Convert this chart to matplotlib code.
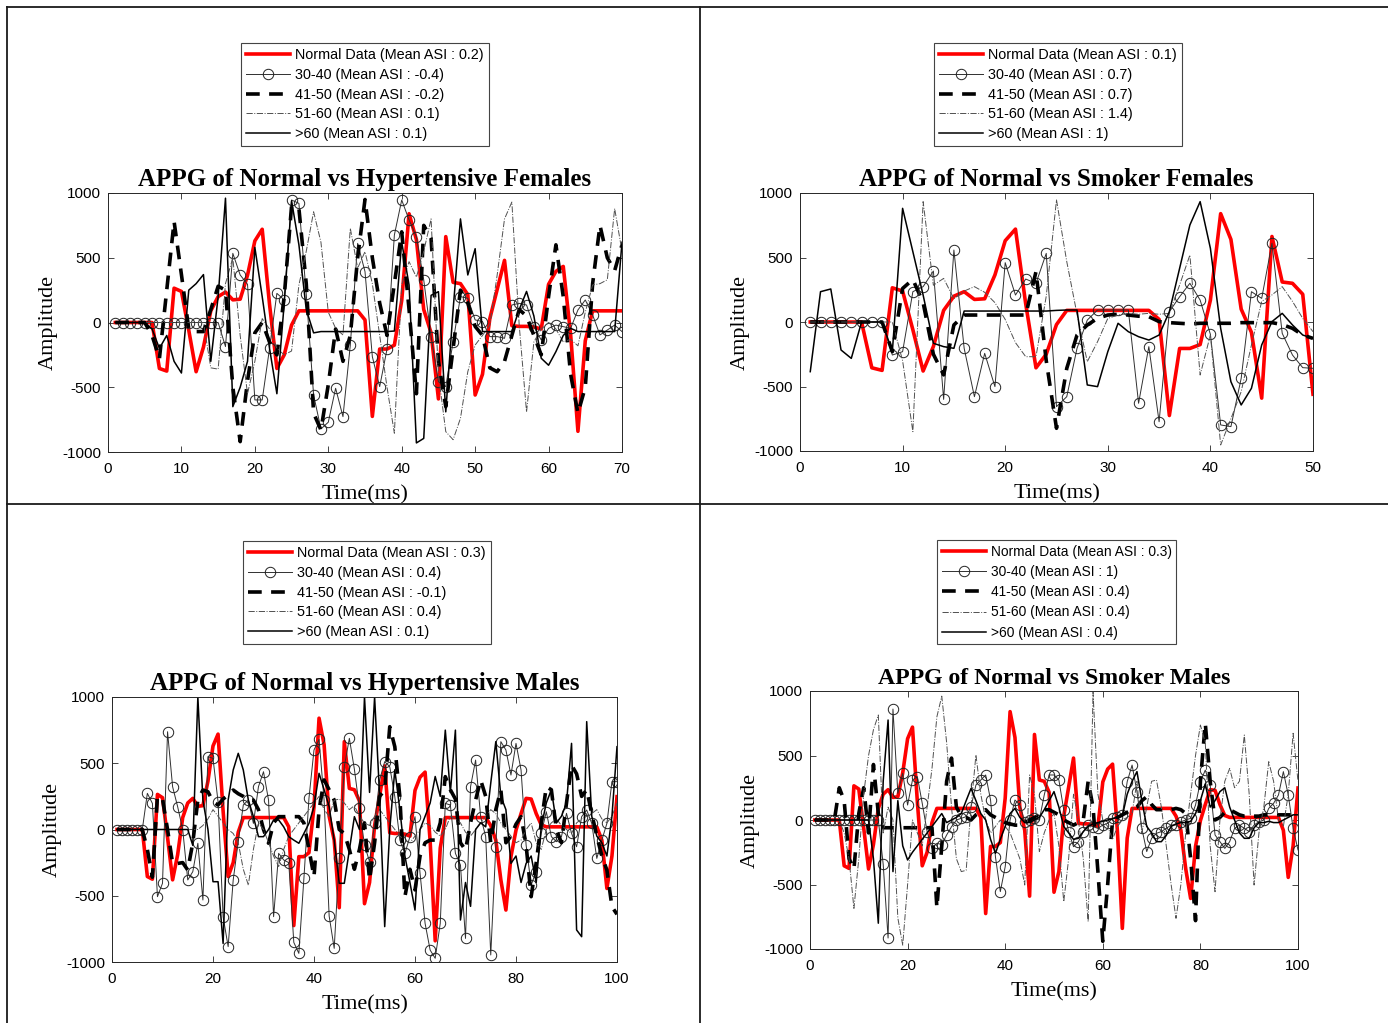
import numpy as np
import matplotlib
matplotlib.use('Agg')
import matplotlib.pyplot as plt
from matplotlib.lines import Line2D

# ---- data (amplitude per ms sample) ----
normal_data = [
    0, 0, 0, 0, 0, 0, -355, -375, 265, 240,
    -60, -380, -190, 90, 200, 235, 175, 180, 365, 630,
    720, 140, -355, -250, -20, 90, 90, 90, 90, 90,
    90, 90, 90, 90, 20, -725, -205, -205, -175, 170,
    840, 640, 100, -80, -590, 663, 310, 300, 215, -560,
    -400, 30, 255, 480, -25, -30, -30, -35, -50, 295,
    395, 433, -90, -840, -140, 90, 90, 90, 90, 90,
    90, 90, 90, 90, 30, -80, -380, -608, -205, -5,
    120, 235, 230, 120, 35, 20, 20, 20, 20, 20,
    20, 20, 20, 20, 20, 20, -80, -445, -200, 248,
]

# hypertensive females (70 samples)
hf_30_40 = [
    0, 0, 0, 0, 0, 0, 0, 0, 0, 0,
    0, 0, 0, 0, 0, -186, 534, 367, 295, -598,
    -598, -200, 225, 174, 946, 920, 218, -560, -822, -770,
    -508, -727, -174, 611, 393, -264, -495, -205, 676, 946,
    792, 663, 328, -109, -457, -495, -148, 200, 187, 20,
    7, -109, -109, -122, 135, 148, 135, -32, -135, -45,
    -20, -32, -45, 97, 174, 58, -96, -58, -20, -70,
]
hf_41_50 = [
    0, 0, 0, 0, 0, -100, -280, 250, 780, 370,
    -50, -70, -70, 100, 280, 250, -500, -920, -450, -80,
    0, -150, -250, 200, 900, 880, 300, -700, -830, -480,
    -50, -300, -100, 500, 950, 500, 150, -100, 300, 700,
    100, -550, 750, 650, -300, -650, -200, 250, 150, -30,
    -100, -350, -380, -300, -100, 100, 50, -100, -250, 200,
    600, 200, -400, -700, -500, 300, 750, 500, 400, 600,
]
hf_51_60 = [
    0, 0, 0, 0, 0, 0, 0, 0, 0, 0,
    0, 0, 0, -350, -360, 300, 500, -100, -550, -300,
    30, -50, -200, -250, -220, 290, 550, 855, 620, 80,
    -45, -96, 727, 420, 547, 300, -100, -500, -855, 290,
    470, 350, 550, 800, -400, -843, -905, -740, -380, -174,
    -100, -20, 367, 800, 930, -20, -690, -150, -50, 0,
    -50, -150, -130, -180, 80, 290, 300, 330, 880, 550,
]
hf_over60 = [
    0, 0, 0, 0, 0, -50, -200, -100, -300, -390,
    250, 300, 370, -300, 200, 960, -650, -500, -300, 580,
    200, -200, -550, 150, 940, 600, 100, -80, -70, -70,
    -70, -70, -70, -70, -70, -70, -70, -70, -66, 620,
    290, -930, -895, 210, 238, -690, 100, 800, 367, 570,
    -70, -70, -70, -70, -70, 100, 240, 50, -276, -330,
    -225, -100, -45, -70, -70, -70, -70, -70, -70, 620,
]

# smoker females (50 samples)
sf_30_40 = [
    0, 0, 0, 0, 0, 0, 0, 0, -256, -230,
    235, 274, 395, -600, 558, -204, -579, -243, -501, 460,
    209, 333, 300, 532, -656, -579, -204, 15, 93, 93,
    93, 93, -630, -191, -773, 80, 196, 300, 170, -96,
    -798, -811, -437, 235, 183, 610, -88, -256, -354, -359,
]
sf_41_50 = [
    0, 0, 0, 0, 0, 0, 0, 0, -230, 260,
    330, 150, -250, -410, -23, 54, 54, 54, 54, 54,
    54, 54, 390, -300, -824, -359, -101, -23, 28, 54,
    60, 54, 45, 41, 3, -5, -10, -15, -10, -10,
    -10, -10, -5, -5, -5, -5, -20, -49, -101, -127,
]
sf_51_60 = [
    0, 0, 0, 0, 0, 0, 0, 0, 0, -300,
    -850, 933, 285, 338, 180, 240, 274, 230, 150, 20,
    -160, -269, -269, 200, 946, 468, 60, -307, -153, 28,
    54, 67, 60, 67, 60, 67, 287, 519, -411, -100,
    -953, -750, -540, -178, 160, 210, 274, 160, 28, -75,
]
sf_over60 = [
    -385, 235, 256, -217, -282, 0, 0, 0, -230, 881,
    545, 209, -165, -191, -204, 85, 85, 85, 85, 85,
    85, 85, 85, 85, 90, 93, 93, -488, -501, -230,
    -10, -75, -114, -140, -101, 80, 416, 752, 933, 571,
    -49, -463, -643, -514, -178, 3, 67, -23, -101, -127,
]

# hypertensive males (100 samples)
hm_30_40 = [
    0, 0, 0, 0, 0, 0, 273, 197, -507, -406,
    738, 323, 172, 0, -381, -318, -104, -532, 550, 537,
    210, -658, -884, -381, -92, 185, 222, 46, 323, 436,
    222, -658, -180, -230, -250, -852, -935, -369, 235, 600,
    680, 222, -653, -897, -218, 474, 688, 454, 160, -117,
    -243, 46, 374, 512, 474, 248, -80, -180, -54, 97,
    -331, -709, -910, -972, -709, 197, 185, -180, -268, -822,
    323, 524, 97, -54, -947, -130, 663, 600, 411, 650,
    449, -117, -419, -318, -29, 134, -54, -92, -54, 122,
    -29, -130, 97, 147, 46, -218, -80, 46, 361, 361,
]
hm_41_50 = [
    0, 0, 0, 0, 0, 0, -150, -360, 250, 230,
    0, -256, -256, -250, -306, -100, 222, 298, 285, 210,
    185, 230, 260, 298, 270, 250, 222, 222, 150, 0,
    -104, 50, 97, 97, 97, 97, 97, 50, -150, -356,
    147, 374, 300, 222, 0, -30, -150, -300, -150, 50,
    -380, -100, 250, 300, 776, 625, 248, -507, -300, -456,
    -200, -100, -80, -80, 50, 399, 300, 230, -100, -155,
    50, 222, 374, 250, -100, 150, 300, -100, -50, 40,
    97, -117, -507, -250, 50, 323, 300, 0, -100, 200,
    487, 420, 250, 300, 120, -50, -200, -306, -583, -640,
]
hm_51_60 = [
    0, 0, 0, 0, 0, 0, 0, 0, 0, 0,
    0, 0, 0, 0, 0, 0, 0, 30, 80, 150,
    100, 50, 0, -30, -100, -300, -420, -150, 50, 0,
    -100, -200, -280, -150, -50, 0, 50, 100, 150, 200,
    250, 150, 100, 220, 230, 200, 150, 180, 100, 50,
    30, 100, 150, 100, 50, 0, -50, -80, -100, -50,
    0, 50, 30, -20, -50, 0, 100, 80, 50, -20,
    -50, 0, 50, 100, 150, 120, 50, 0, -50, -100,
    -80, 0, 50, -100, -150, 0, 50, 80, 30, 0,
    -30, 50, 80, 100, 120, 150, 80, 50, 100, 200,
]
hm_over60 = [
    0, 0, 0, 0, 0, 0, 0, 0, 0, 0,
    0, 0, 0, 0, 0, -120, 1000, 222, 0, -394,
    -394, -860, 222, 449, 575, 449, 222, 97, -54, -54,
    0, 72, 72, 20, -54, -80, -104, -30, 46, 172,
    424, 300, 172, -80, -406, -406, -155, 97, 0, 1000,
    280, 1000, 250, -733, 0, 450, 150, -200, -400, -608,
    0, 100, 200, 400, 250, 750, 280, 750, -683, -400,
    -580, 0, 50, 20, 350, 663, 250, 150, -256, -200,
    -400, -256, -200, -400, 20, 200, 300, 50, 100, 200,
    650, -758, -809, 814, 100, -50, -100, -200, 100, 625,
]

# smoker males (100 samples)
sm_30_40 = [
    0, 0, 0, 0, 0, 0, 0, 0, 0, 0,
    0, 0, 0, 0, -344, -915, 860, 207, 362, 116,
    310, 336, 129, -90, -220, -181, -190, -116, -52, 0,
    13, 26, 103, 271, 310, 349, 155, -285, -555, -362,
    0, 155, 116, -13, 0, 13, 0, 194, 349, 349,
    310, 78, -90, -207, -168, -90, -39, -52, -65, -39,
    -26, 13, 26, 39, 297, 426, 220, -65, -245, -142,
    -103, -90, -65, -39, -39, -13, 0, 13, 116, 297,
    387, 271, -116, -168, -220, -168, -65, -39, -65, -90,
    -39, -13, 0, 90, 129, 194, 375, 194, -65, -232,
]
sm_41_50 = [
    0, 0, 0, 0, 0, 250, 150, -300, -380, 50,
    250, -100, 430, 50, -60, -60, -60, -60, -60, -60,
    -60, -60, -60, -60, -60, -680, -200, 300, 480, 100,
    30, 20, 0, 40, 60, 80, 40, 20, 0, -20,
    -30, -40, -40, -20, 0, 20, 40, 80, 80, 60,
    40, 0, -20, -40, -20, 0, 300, 100, -400, -940,
    -500, 0, 20, 40, 60, 80, 100, 150, 180, 120,
    80, 80, 80, 80, 90, 80, 50, -300, -780, 300,
    750, 300, 0, 20, 60, 80, 60, 40, 30, 30,
    30, 30, 40, 40, 40, 40, 40, 40, 40, 40,
]
sm_51_60 = [
    0, 0, 0, 0, 0, 0, -100, -300, -685, -300,
    200, 500, 700, 814, -100, 100, 0, -760, -970, -500,
    0, -100, -200, 100, 400, 800, 960, 600, 100, -300,
    -400, -390, 100, 504, 200, 0, -100, -50, 0, -50,
    -100, -200, -300, -504, 349, 200, -245, -100, 0, 50,
    -200, -633, -300, 200, 0, -300, -788, 990, 200, 0,
    -50, -150, -50, 0, 20, 50, 300, -100, 100, 300,
    310, 100, -200, -500, -762, -500, -100, 200, 500, 736,
    600, -200, -556, 0, 300, 400, 250, 300, 659, 200,
    -504, -100, 100, 452, 300, 0, -50, 200, 672, 300,
]
sm_over60 = [
    0, 0, 0, 0, 0, 0, 0, 0, 0, 0,
    0, 0, -300, -800, 300, 775, -400, 150, -200, -310,
    -250, -200, -150, -100, -50, 0, 50, -20, 0, 20,
    50, 150, 245, 150, 50, 0, -150, -258, -150, -50,
    50, 90, 20, -20, -20, 0, 20, 80, 150, 220,
    100, -50, -100, -150, -142, -90, -50, -30, -20, -10,
    0, 10, 20, 30, 200, 300, 375, 150, -50, -100,
    -168, -168, -120, -50, -30, -20, -20, -10, 50, 150,
    280, 100, 150, 220, 250, 100, 0, -100, -142, -142,
    -60, -20, -20, -10, -20, -20, 0, 20, 40, 40,
]

groups = ['Normal Data', '30-40', '41-50', '51-60', '>60']
asi_hf = ['0.2', '-0.4', '-0.2', '0.1', '0.1']
asi_sf = ['0.1', '0.7', '0.7', '1.4', '1']
asi_hm = ['0.3', '0.4', '-0.1', '0.4', '0.1']
asi_sm = ['0.3', '1', '0.4', '0.4', '0.4']

W, H = 1388, 1023
SERIF = 'Liberation Serif'
plt.rcParams['font.family'] = ['Liberation Sans', 'DejaVu Sans']
plt.rcParams['axes.unicode_minus'] = False

styles = [
    dict(color='#ff0000', lw=2.6),
    dict(color='#303030', lw=0.7, marker='o', ms=7.5, mfc='none',
         mec='#222222', mew=0.7),
    dict(color='black', lw=2.6, ls=(0, (3.8, 2.6))),
    dict(color='#505050', lw=0.7, ls='-.'),
    dict(color='black', lw=1.1),
]


def px_rect(left, top, right, bottom):
    return [left / W, 1 - bottom / H, (right - left) / W, (bottom - top) / H]


def draw_panel(box, x_max, step, series, asi, title, leg_xy, scale=1.0):
    ax = fig.add_axes(px_rect(*box))
    lines = []
    for s, st in zip(series, styles):
        t = np.arange(1, len(s) + 1)
        lines += ax.plot(t, s, **st)
    ax.set_xlim(0, x_max)
    ax.set_ylim(-1000, 1000)
    ax.set_xticks(np.arange(0, x_max + 1, step))
    ax.set_yticks([-1000, -500, 0, 500, 1000])
    ax.tick_params(direction='in', top=True, right=True, length=4,
                   width=0.6, labelsize=11, color='#262626')
    ax.tick_params(axis='x', pad=7)
    ax.tick_params(axis='y', pad=5)
    for sp in ax.spines.values():
        sp.set_linewidth(0.7)
        sp.set_color('#262626')
    ax.set_title(title, fontfamily=SERIF, fontweight='bold',
                 fontsize=18 * scale, pad=5)
    ax.set_xlabel('Time(ms)', fontfamily=SERIF, fontsize=16, labelpad=7)
    ax.set_ylabel('Amplitude', fontfamily=SERIF, fontsize=16, labelpad=3)
    labels = [f'{g} (Mean ASI : {a})' for g, a in zip(groups, asi)]
    fs = 10.4 * scale
    leg = ax.legend(lines, labels, loc='upper left',
                    bbox_to_anchor=(leg_xy[0] / W, 1 - leg_xy[1] / H),
                    bbox_transform=fig.transFigure, borderaxespad=0,
                    fancybox=False, edgecolor='#444444', framealpha=1,
                    fontsize=fs, handlelength=31.7 / fs,
                    handletextpad=0.35, labelspacing=0.4 + (1 - scale),
                    borderpad=0.35)
    leg.get_frame().set_linewidth(0.8)
    return ax


fig = plt.figure(figsize=(W / 100, H / 100), dpi=100)
fig.patch.set_facecolor('white')

draw_panel((108, 193, 622, 452), 70, 10,
           [normal_data[:70], hf_30_40, hf_41_50, hf_51_60, hf_over60],
           asi_hf, 'APPG of Normal vs Hypertensive Females', (241, 43))
draw_panel((800, 193, 1313, 451), 50, 10,
           [normal_data[:50], sf_30_40, sf_41_50, sf_51_60, sf_over60],
           asi_sf, 'APPG of Normal vs Smoker Females', (934, 43))
draw_panel((112, 697, 617, 962), 100, 20,
           [normal_data, hm_30_40, hm_41_50, hm_51_60, hm_over60],
           asi_hm, 'APPG of Normal vs Hypertensive Males', (243, 541))
draw_panel((810, 691, 1298, 949), 100, 20,
           [normal_data, sm_30_40, sm_41_50, sm_51_60, sm_over60],
           asi_sm, 'APPG of Normal vs Smoker Males', (937, 540), scale=0.95)

# table-like border lines around the four panels
for (x0, y0, x1, y1) in [(7, 7, W, 7), (7, 7, 7, H), (700, 7, 700, H),
                         (7, 504, W, 504)]:
    fig.add_artist(Line2D([x0 / W, x1 / W], [1 - y0 / H, 1 - y1 / H],
                          transform=fig.transFigure, color='#1a1a1a',
                          lw=1.3))

fig.savefig('out.png', dpi=100)
